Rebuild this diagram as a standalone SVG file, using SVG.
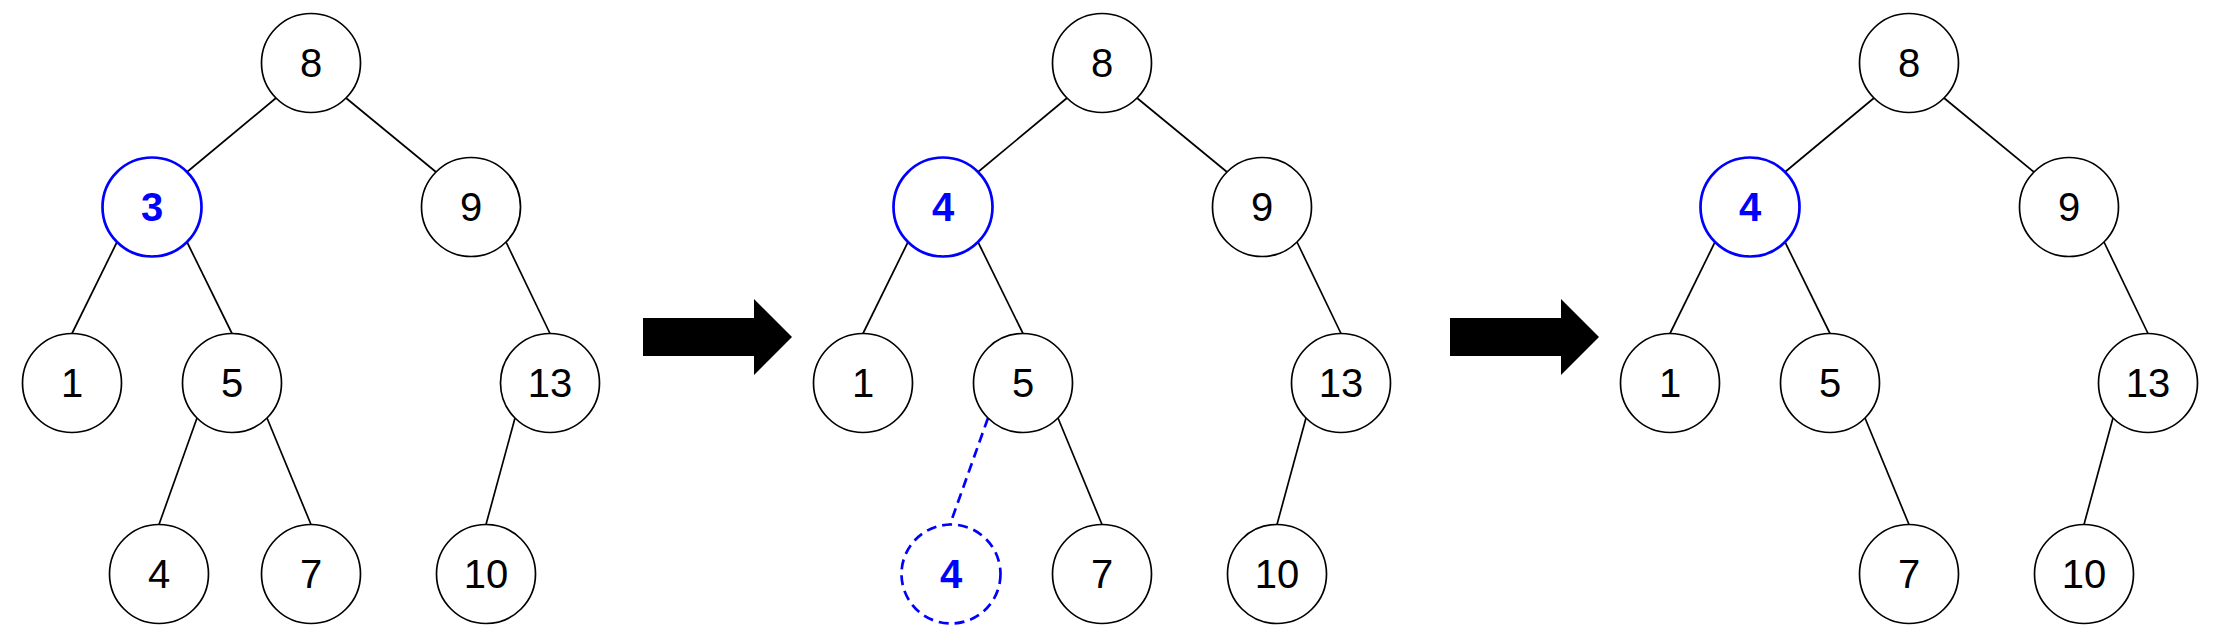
<svg xmlns="http://www.w3.org/2000/svg" width="2228" height="638" viewBox="0 0 2228 638">
<defs>
<style>
.n{fill:#fff;stroke:#000;stroke-width:1.7}
.nb{fill:#fff;stroke:#0000ff;stroke-width:2.7}
.nd{fill:#fff;stroke:#0000ff;stroke-width:2.7;stroke-dasharray:10 6}
.e{stroke:#000;stroke-width:1.7;fill:none}
.ed{stroke:#0000ff;stroke-width:2.7;fill:none;stroke-dasharray:10 6}
.t{font-family:"Liberation Sans",Arial,sans-serif;font-size:40px;text-anchor:middle;fill:#000}
.tb{font-family:"Liberation Sans",Arial,sans-serif;font-size:40px;text-anchor:middle;fill:#0000ff;font-weight:bold}
.arr{fill:#000}
</style>
</defs>
<rect width="2228" height="638" fill="#fff"/>
<g id="connectors">
<line class="e" x1="276" y1="98" x2="187" y2="172"/>
<line class="e" x1="346" y1="98" x2="436" y2="172"/>
<line class="e" x1="117" y1="242" x2="72" y2="333.5"/>
<line class="e" x1="187" y1="242" x2="232" y2="333.5"/>
<line class="e" x1="506" y1="242" x2="550" y2="333.5"/>
<line class="e" x1="197" y1="418" x2="159" y2="524.5"/>
<line class="e" x1="267" y1="418" x2="311" y2="524.5"/>
<line class="e" x1="515" y1="418" x2="486" y2="524.5"/>
<line class="e" x1="1067" y1="98" x2="978" y2="172"/>
<line class="e" x1="1137" y1="98" x2="1227" y2="172"/>
<line class="e" x1="908" y1="242" x2="863" y2="333.5"/>
<line class="e" x1="978" y1="242" x2="1023" y2="333.5"/>
<line class="e" x1="1297" y1="242" x2="1341" y2="333.5"/>
<line class="ed" x1="988" y1="418" x2="950" y2="524.5"/>
<line class="e" x1="1058" y1="418" x2="1102" y2="524.5"/>
<line class="e" x1="1306" y1="418" x2="1277" y2="524.5"/>
<line class="e" x1="1874" y1="98" x2="1785" y2="172"/>
<line class="e" x1="1944" y1="98" x2="2034" y2="172"/>
<line class="e" x1="1715" y1="242" x2="1670" y2="333.5"/>
<line class="e" x1="1785" y1="242" x2="1830" y2="333.5"/>
<line class="e" x1="2104" y1="242" x2="2148" y2="333.5"/>
<line class="e" x1="1865" y1="418" x2="1909" y2="524.5"/>
<line class="e" x1="2113" y1="418" x2="2084" y2="524.5"/>
</g>
<g id="arrow1"><polygon class="arr" points="643,318 754,318 754,299 792,337 754,375 754,356 643,356"/></g>
<g id="arrow2"><polygon class="arr" points="1450,318 1561,318 1561,299 1599,337 1561,375 1561,356 1450,356"/></g>
<g id="p1-n8"><circle class="n" cx="311" cy="63" r="49.5"/><text class="t" x="311" y="77.3">8</text></g>
<g id="p1-n3"><circle class="nb" cx="152" cy="207" r="49.5"/><text class="tb" x="152" y="221.3">3</text></g>
<g id="p1-n9"><circle class="n" cx="471" cy="207" r="49.5"/><text class="t" x="471" y="221.3">9</text></g>
<g id="p1-n1"><circle class="n" cx="72" cy="383" r="49.5"/><text class="t" x="72" y="397.3">1</text></g>
<g id="p1-n5"><circle class="n" cx="232" cy="383" r="49.5"/><text class="t" x="232" y="397.3">5</text></g>
<g id="p1-n13"><circle class="n" cx="550" cy="383" r="49.5"/><text class="t" x="550" y="397.3">13</text></g>
<g id="p1-n4"><circle class="n" cx="159" cy="574" r="49.5"/><text class="t" x="159" y="588.3">4</text></g>
<g id="p1-n7"><circle class="n" cx="311" cy="574" r="49.5"/><text class="t" x="311" y="588.3">7</text></g>
<g id="p1-n10"><circle class="n" cx="486" cy="574" r="49.5"/><text class="t" x="486" y="588.3">10</text></g>
<g id="p2-n8"><circle class="n" cx="1102" cy="63" r="49.5"/><text class="t" x="1102" y="77.3">8</text></g>
<g id="p2-n4"><circle class="nb" cx="943" cy="207" r="49.5"/><text class="tb" x="943" y="221.3">4</text></g>
<g id="p2-n9"><circle class="n" cx="1262" cy="207" r="49.5"/><text class="t" x="1262" y="221.3">9</text></g>
<g id="p2-n1"><circle class="n" cx="863" cy="383" r="49.5"/><text class="t" x="863" y="397.3">1</text></g>
<g id="p2-n5"><circle class="n" cx="1023" cy="383" r="49.5"/><text class="t" x="1023" y="397.3">5</text></g>
<g id="p2-n13"><circle class="n" cx="1341" cy="383" r="49.5"/><text class="t" x="1341" y="397.3">13</text></g>
<g id="p2-n4old"><circle class="nd" cx="951" cy="574" r="49.5"/><text class="tb" x="951" y="588.3">4</text></g>
<g id="p2-n7"><circle class="n" cx="1102" cy="574" r="49.5"/><text class="t" x="1102" y="588.3">7</text></g>
<g id="p2-n10"><circle class="n" cx="1277" cy="574" r="49.5"/><text class="t" x="1277" y="588.3">10</text></g>
<g id="p3-n8"><circle class="n" cx="1909" cy="63" r="49.5"/><text class="t" x="1909" y="77.3">8</text></g>
<g id="p3-n4"><circle class="nb" cx="1750" cy="207" r="49.5"/><text class="tb" x="1750" y="221.3">4</text></g>
<g id="p3-n9"><circle class="n" cx="2069" cy="207" r="49.5"/><text class="t" x="2069" y="221.3">9</text></g>
<g id="p3-n1"><circle class="n" cx="1670" cy="383" r="49.5"/><text class="t" x="1670" y="397.3">1</text></g>
<g id="p3-n5"><circle class="n" cx="1830" cy="383" r="49.5"/><text class="t" x="1830" y="397.3">5</text></g>
<g id="p3-n13"><circle class="n" cx="2148" cy="383" r="49.5"/><text class="t" x="2148" y="397.3">13</text></g>
<g id="p3-n7"><circle class="n" cx="1909" cy="574" r="49.5"/><text class="t" x="1909" y="588.3">7</text></g>
<g id="p3-n10"><circle class="n" cx="2084" cy="574" r="49.5"/><text class="t" x="2084" y="588.3">10</text></g>
</svg>
